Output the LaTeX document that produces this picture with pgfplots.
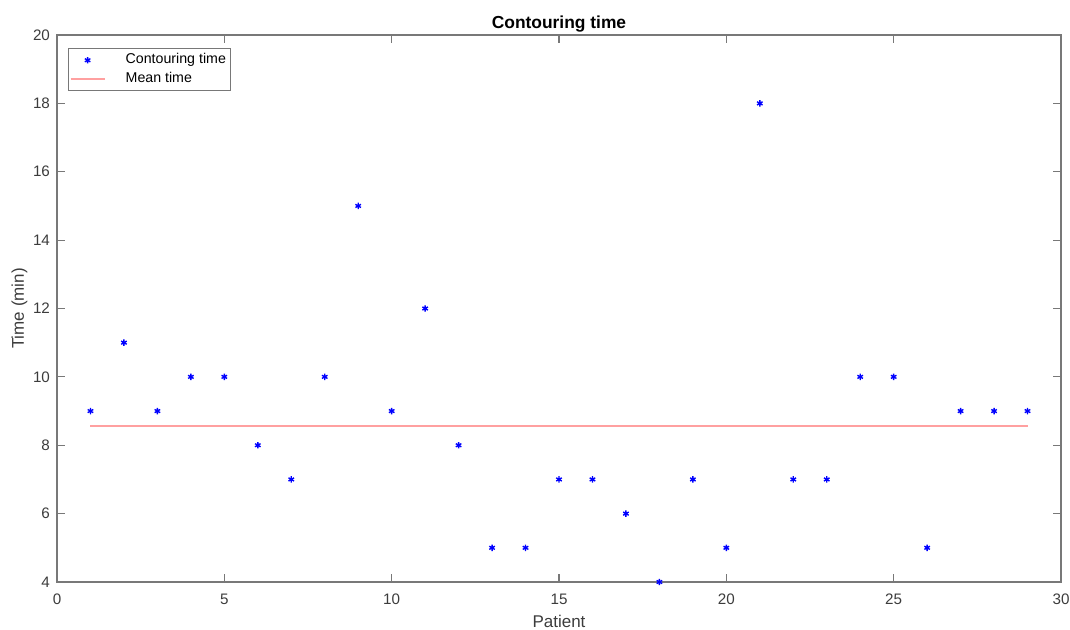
\documentclass[border=0pt]{standalone}
\usepackage{pgfplots}
\pgfplotsset{compat=1.18}
\usepackage{fontspec}
\setmainfont{Liberation Sans}
\definecolor{axgray}{RGB}{120,120,120}
\definecolor{txtgray}{RGB}{60,60,60}
\definecolor{meanred}{RGB}{255,160,160}
\begin{document}
\begin{tikzpicture}
\path[use as bounding box] (-28.5pt,-24pt) rectangle (506.5pt,291pt);
\begin{axis}[
  scale only axis,
  width=502pt, height=273.5pt,
  xmin=0, xmax=30, ymin=4, ymax=20,
  xtick={0,5,...,30}, ytick={4,6,...,20},
  tick align=inside,
  tick pos=both,
  major tick length=4pt,
  axis line style={axgray, line width=0.6pt},
  every tick/.style={axgray, line width=0.6pt},
  tick label style={font=\fontsize{7.6}{9}\selectfont, text=txtgray},
  xticklabel style={yshift=-2.5pt},
  /pgf/number format/assume math mode=true,
  title={\bfseries Contouring time},
  title style={font=\fontsize{8.7}{10}\selectfont, text=black, at={(0.5,1)}, anchor=base, yshift=-3pt, inner sep=0pt},
  xlabel={Patient}, ylabel={Time (min)},
  label style={font=\fontsize{8.5}{10}\selectfont, text=txtgray},
  xlabel style={yshift=1.5pt},
  ylabel style={yshift=-4pt},
  legend style={font=\fontsize{7.1}{8.5}\selectfont, draw=axgray, line width=0.5pt,
    at={(0.011,0.976)}, anchor=north west, inner sep=0.5pt, row sep=-1.5pt,
    column sep=8pt, cells={anchor=west}},
  legend cell align=left,
]
\addplot[only marks, mark=asterisk, mark size=1.6pt, color=blue, line width=0.7pt] coordinates {
(1,9) (2,11) (3,9) (4,10) (5,10) (6,8) (7,7) (8,10) (9,15) (10,9)
(11,12) (12,8) (13,5) (14,5) (15,7) (16,7) (17,6) (18,4) (19,7) (20,5)
(21,18) (22,7) (23,7) (24,10) (25,10) (26,5) (27,9) (28,9) (29,9)
};
\addlegendentry{Contouring time}
\addplot[meanred, line width=1pt] coordinates {(1,8.5517) (29,8.5517)};
\addlegendentry{Mean time}
\end{axis}
\end{tikzpicture}
\end{document}
